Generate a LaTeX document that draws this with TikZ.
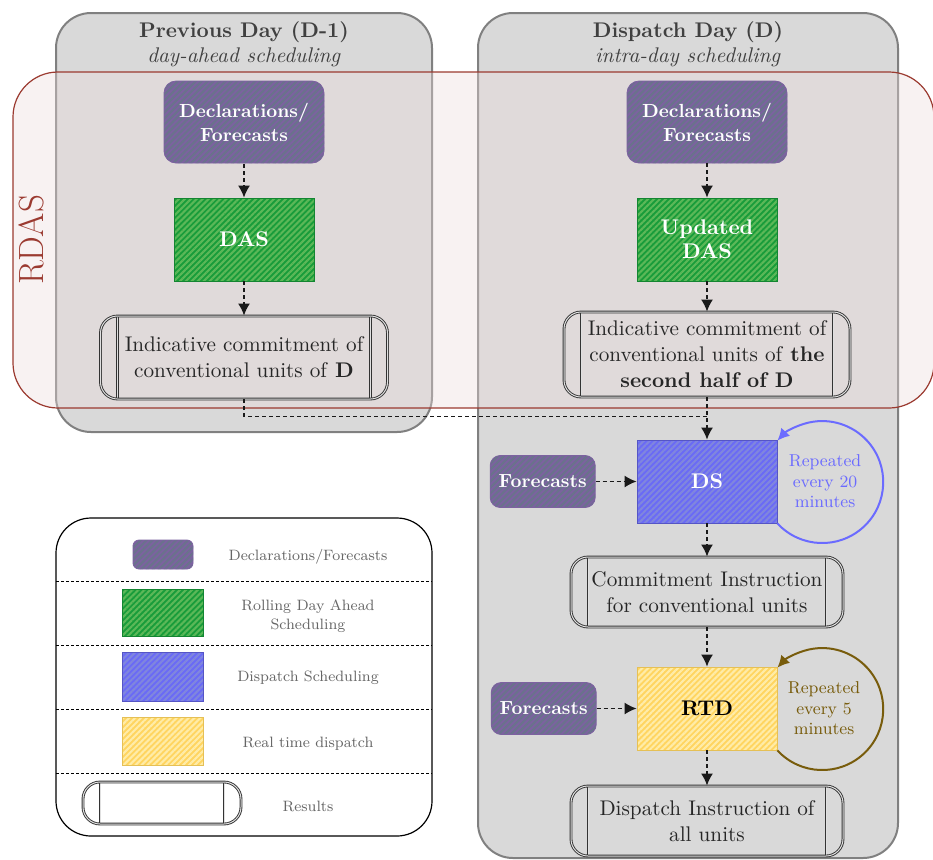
\documentclass[tikz,border=0pt]{standalone}
\usepackage{xcolor}
\usepackage{tikz}
\usetikzlibrary{arrows.meta,positioning,calc,patterns.meta}

\definecolor{decfill}{RGB}{124,98,160}
\definecolor{decline}{RGB}{106,114,140}
\definecolor{dasfill}{RGB}{24,156,58}
\definecolor{dasline}{RGB}{92,184,88}
\definecolor{dsfill}{RGB}{106,106,246}
\definecolor{dsline}{RGB}{128,134,222}
\definecolor{rtdfill}{RGB}{255,213,96}
\definecolor{rtdline}{RGB}{255,236,168}
\definecolor{rdasred}{RGB}{155,58,48}
\definecolor{rdasfill}{RGB}{236,220,220}
\definecolor{loopblue}{RGB}{107,107,255}
\definecolor{loopbrown}{RGB}{120,92,12}
\definecolor{titlegray}{RGB}{64,64,64}

\begin{document}
\begin{tikzpicture}[x=0.5pt, y=-0.5pt, font=\fontsize{10.6}{13}\selectfont,
  daybox/.style={rectangle, rounded corners=17.5pt, draw=black!50, line width=1pt,
                 fill=black!15},
  daytitle/.style={align=center, text=titlegray, font=\fontsize{10.6}{12.5}\selectfont},
  rdasbox/.style={rectangle, rounded corners=22.5pt, draw=rdasred, line width=0.6pt,
                  fill=rdasfill, fill opacity=0.37},
  hatch/.style={rectangle, text=white, align=center, inner sep=2pt,
                minimum width=70pt, minimum height=41.5pt, line width=0.4pt,
                font=\fontsize{10.6}{12}\selectfont\bfseries},
  decl/.style={hatch, rounded corners=6pt, draw=decfill, preaction={fill=decfill},
               pattern={Lines[angle=45,distance=2.1pt,line width=1.05pt]}, pattern color=decline,
               font=\fontsize{9.5}{12}\selectfont\bfseries},
  fcast/.style={decl, rounded corners=5pt, minimum width=52.5pt, minimum height=26pt},
  das/.style={hatch, draw=dasfill!85!black, preaction={fill=dasfill},
              pattern={Lines[angle=45,distance=2.1pt,line width=1.05pt]}, pattern color=dasline},
  ds/.style={hatch, draw=dsfill!80!black, preaction={fill=dsfill},
             pattern={Lines[angle=45,distance=2.1pt,line width=1.05pt]}, pattern color=dsline},
  rtd/.style={hatch, text=black, draw=rtdfill!90!black, preaction={fill=rtdfill},
              pattern={Lines[angle=45,distance=2.1pt,line width=1.05pt]}, pattern color=rtdline},
  result/.style={rectangle, rounded corners=8.5pt, draw=black!80, double=black!12,
                 double distance=0.5pt, line width=0.45pt, align=center, inner sep=2pt,
                 text=black!85,
                 path picture={\draw[black!80, double=black!12, double distance=0.5pt, line width=0.45pt]
                   ([xshift=8.5pt]path picture bounding box.north west) --
                   ([xshift=8.5pt]path picture bounding box.south west)
                   ([xshift=-8.5pt]path picture bounding box.north east) --
                   ([xshift=-8.5pt]path picture bounding box.south east);}},
  looptext/.style={align=center, inner sep=0pt, font=\fontsize{8.6}{10.25}\selectfont},
  flow/.style={-{Latex[length=6pt,width=6pt]}, line width=0.8pt, black!90,
               dash pattern=on 2pt off 1.5pt},
  flowline/.style={line width=0.8pt, black!90, dash pattern=on 2pt off 1.5pt},
  repeatarc/.style={-{Latex[length=6pt,width=6pt]}, line width=1pt},
  legbox/.style={rectangle, rounded corners=17.5pt, draw=black, line width=0.6pt, fill=white},
  legsep/.style={line width=0.5pt, dash pattern=on 1.5pt off 1pt},
  legtext/.style={align=center, text=black!60, font=\fontsize{7.5}{9.5}\selectfont}]

  \useasboundingbox (0,0) rectangle (933,859);

  % the two days
  \node[daybox, minimum width=188pt, minimum height=209.5pt] (prevday) at (244,222.5) {};
  \node[daybox, minimum width=210pt, minimum height=422.5pt] (dispday) at (688,435.5) {};
  \node[daytitle] (prevtitle) at (244,44.5) {\textbf{Previous Day (D-1)}\\\textit{day-ahead scheduling}};
  \node[daytitle] (disptitle) at (688,44.5) {\textbf{Dispatch Day (D)}\\\textit{intra-day scheduling}};

  % rolling day ahead band
  \node[rdasbox, minimum width=460.5pt, minimum height=168pt] (rdas) at (473.5,240) {};
  \node[rotate=90, text=rdasred, font=\fontsize{17.5}{20}\selectfont] (rdaslabel) at (31,240) {RDAS};

  % previous day
  \node[decl, minimum width=80pt, minimum height=41pt] (declL) at (244,122) {Declarations/\\Forecasts};
  \node[das] (dasL) at (244,239.5) {DAS};
  \node[result, minimum width=143.5pt, minimum height=41.5pt] (indL) at (244,357.5)
    {Indicative commitment of\\conventional units of \textbf{D}};

  % dispatch day
  \node[decl, minimum width=80pt, minimum height=41pt] (declR) at (707,122) {Declarations/\\Forecasts};
  \node[das] (dasR) at (707,239.5) {Updated\\DAS};
  \node[result, minimum width=143pt, minimum height=42.5pt] (indR) at (707,354.5)
    {Indicative commitment of\\conventional units of \textbf{the}\\\textbf{second half of D}};
  \node[ds] (ds) at (707,481.5) {DS};
  \node[fcast, left=20.5pt of ds] (fcDS) {Forecasts};
  \node[looptext, text=loopblue, right=5.5pt of ds] (repDS) {Repeated\\every 20\\minutes};
  \node[result, minimum width=136pt, minimum height=35pt] (ci) at (707,592)
    {Commitment Instruction\\for conventional units};
  \node[rtd] (rtd) at (707,708.5) {RTD};
  \node[fcast, left=20pt of rtd] (fcRTD) {Forecasts};
  \node[looptext, text=loopbrown, right=5pt of rtd] (repRTD) {Repeated\\every 5\\minutes};
  \node[result, minimum width=136pt, minimum height=35pt] (di) at (707,821)
    {Dispatch Instruction of\\all units};

  \draw[flow] (declL) -- (dasL);
  \draw[flow] (dasL) -- (indL);
  \draw[flow] (declR) -- (dasR);
  \draw[flow] (dasR) -- (indR);
  \coordinate (join) at ($(indR.south)!0.45!(ds.north)$);
  \draw[flowline] (indL.south) |- (join);
  \draw[flow] (indR) -- (ds);
  \draw[flow] (fcDS) -- (ds);
  \draw[flow] (ds) -- (ci);
  \draw[flow] (ci) -- (rtd);
  \draw[flow] (fcRTD) -- (rtd);
  \draw[flow] (rtd) -- (di);
  \draw[repeatarc, loopblue] (ds.south east) arc[start angle=-137.3, end angle=137.3, radius=30.5pt];
  \draw[repeatarc, loopbrown] (rtd.south east) arc[start angle=-137.3, end angle=137.3, radius=30.5pt];

  % legend
  \node[legbox, minimum width=188pt, minimum height=159pt] (legend) at (244,677) {};
  \foreach \y in {581,645,709,773}
    \draw[legsep] (56,\y) -- (432,\y);
  \node[decl, minimum width=30pt, minimum height=14.5pt, rounded corners=3pt] (kdecl) at (163,554.5) {};
  \node[das, minimum width=40.5pt, minimum height=23.5pt] (kdas) at (162.5,612.5) {};
  \node[ds, minimum width=40.5pt, minimum height=24.5pt] (kds) at (162.5,676.5) {};
  \node[rtd, minimum width=40.5pt, minimum height=24pt] (krtd) at (162.5,741) {};
  \node[result, minimum width=79pt, minimum height=21pt] (kres) at (162,803) {};
  \node[legtext] (tdecl) at (308,557) {Declarations/Forecasts};
  \node[legtext] (tdas) at (308,616) {Rolling Day Ahead\\Scheduling};
  \node[legtext] (tds) at (308,678) {Dispatch Scheduling};
  \node[legtext] (trtd) at (308,744) {Real time dispatch};
  \node[legtext] (tres) at (308,806) {Results};
\end{tikzpicture}
\end{document}
